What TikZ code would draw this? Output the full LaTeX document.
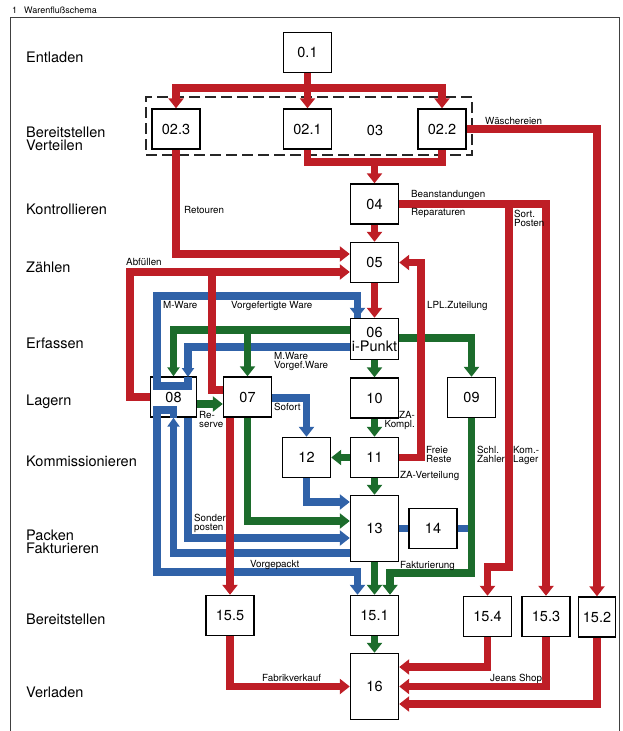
\documentclass[tikz,border=0pt]{standalone}
\usepackage{fontspec}
\setmainfont{TeX Gyre Heros}
\usetikzlibrary{arrows.meta}

\definecolor{flowred}{RGB}{190,30,38}
\definecolor{flowblue}{RGB}{48,98,168}
\definecolor{flowgreen}{RGB}{28,108,44}

\begin{document}
\begin{tikzpicture}[
  x=1pt, y=-1pt,
  box/.style={draw=black, line width=1.4pt, fill=white, minimum width=48pt, minimum height=40pt, inner sep=0pt, align=center, font=\fontsize{14.5}{14}\selectfont},
  tallbox/.style={box, minimum height=66pt},
  stage/.style={anchor=base west, align=left, inner sep=0pt, font=\fontsize{14.5}{13}\selectfont},
  note/.style={anchor=base west, align=left, inner sep=0pt, font=\fontsize{9.8}{8.5}\selectfont},
  group/.style={draw=black!85, line width=1.3pt, dash pattern=on 11pt off 5pt, minimum width=326pt, minimum height=58pt, inner sep=0pt},
  flow/.style={line width=7.5pt, -{Triangle[width=15pt,length=10pt]}},
  redflow/.style={flow, draw=flowred},
  greenflow/.style={flow, draw=flowgreen},
  blueflow/.style={flow, draw=flowblue},
  narrow/.style={-{Triangle[width=12pt,length=9pt]}}
]
\useasboundingbox (0,0) rectangle (623,731);

% frame and title
\draw[line width=0.8pt, black!75] (10,731) -- (10,17) -- (619,17) -- (619,731);
\node[anchor=base west, inner sep=0pt, font=\fontsize{9}{9}\selectfont] (title) at (12,13) {1\hspace{7pt}Warenflußschema};

% === STAGES ===
\node[stage] (sEnt) at (26,62)  {Entladen};
\node[stage] (sBer) at (26,150) {Bereitstellen\\Verteilen};
\node[stage] (sKon) at (26,214) {Kontrollieren};
\node[stage] (sZae) at (26,272) {Zählen};
\node[stage] (sErf) at (26,348) {Erfassen};
\node[stage] (sLag) at (26,405) {Lagern};
\node[stage] (sKom) at (26,466) {Kommissionieren};
\node[stage] (sPac) at (26,553) {Packen\\Fakturieren};
\node[stage] (sBe2) at (26,624) {Bereitstellen};
\node[stage] (sVer) at (26,697) {Verladen};

% === BOXES ===
\node[group] (grp) at (309,126) {};
\node[box] (b01)  at (307.5,52.5) {0.1};
\node[box] (b023) at (176,129)   {02.3};
\node[box] (b021) at (307.5,129) {02.1};
\node[box] (b022) at (442,129)   {02.2};
\node[inner sep=0pt, font=\fontsize{14.5}{14}\selectfont] (l03) at (375,130) {03};
\node[box] (b04)  at (374.5,204) {04};
\node[box] (b05)  at (374.5,262.5) {05};
\node[box, minimum height=41pt] (b06) at (374.5,339) {06\\i-Punkt};
\node[box, minimum width=46pt] (b08) at (173.5,397) {08};
\node[box] (b07)  at (247.5,397) {07};
\node[box] (b10)  at (374.5,398) {10};
\node[box] (b09)  at (471.5,397.5) {09};
\node[box] (b12)  at (306.5,457.5) {12};
\node[box] (b11)  at (374.5,457.5) {11};
\node[tallbox] (b13) at (374.5,528.5) {13};
\node[box] (b14)  at (433,528.5) {14};
\node[box] (b155) at (230,615.5) {15.5};
\node[box] (b151) at (374.5,615.5) {15.1};
\node[box] (b154) at (487.5,616.5) {15.4};
\node[box] (b153) at (546,616.5) {15.3};
\node[box, minimum width=37pt] (b152) at (597,617) {15.2};
\node[tallbox] (b16) at (374.5,686.5) {16};

% junctions
\coordinate (jtop) at (307.5,88);
\coordinate (jmid) at (374.5,162);
\coordinate (jabf) at (212,272);
\coordinate (jbean) at (509,204);
\coordinate (jgr) at (247.5,330);
\coordinate (m8a) at (188,377);
\coordinate (fak) at (390,573);

% === BLUE ===
\draw[blueflow, -] (m8a) -- (188,386) -- (157,386) -- (157,296) -| ([xshift=-17pt]b06.north);
\draw[blueflow] (157,296) -| ([xshift=-17pt]b06.north);
\draw[blueflow, narrow] (b06.west |- 0,347) -| (m8a);
\draw[blueflow] (b07.east |- 0,398) -| (b12.north);
\draw[blueflow] (b12.south) |- (b13.west |- 0,502);
\draw[blueflow] (m8a |- b08.south) |- (b13.west |- 0,538);
\draw[blueflow, narrow] (b13.west |- 0,553) -| (b08.south);
\draw[blueflow, -] (b08.south) -- (173.5,410) -- (157,410) -- (157,572) -- (357.5,572);
\draw[blueflow] (157,572) -| ([xshift=-17pt]b151.north);
\draw[blueflow, -] (b13.east) -- (b14.west);
\draw[blueflow, -] (b14.east) -- (b14.east -| b09.south);

% === GREEN ===
\draw[greenflow, narrow] (b06.west |- 0,330) -| (b08.north);
\draw[greenflow] (jgr) -- (b07.north);
\draw[greenflow] (b06.east |- 0,338) -| (b09.north);
\draw[greenflow] (b06.south) -- (b10.north);
\draw[greenflow] (b10.south) -- (b11.north);
\draw[greenflow] (b11.south) -- (b13.north);
\draw[greenflow] (b11.west) -- (b12.east);
\draw[greenflow] (b08.east |- 0,404) -- (b07.west |- 0,404);
\draw[greenflow] (b07.south) |- (b13.west |- 0,521);
\draw[greenflow] (b09.south) |- (fak) -- (fak |- b151.north);
\draw[greenflow] (b13.south) -- (b151.north);
\draw[greenflow] (b151.south) -- (b16.north);

% === RED ===
\draw[redflow] (b01.south) -- (b021.north);
\draw[redflow] (jtop) -| (b023.north);
\draw[redflow] (jtop) -| (b022.north);
\draw[redflow, -] (b021.south) |- (b022.south |- jmid) -- (b022.south);
\draw[redflow] (jmid) -- (b04.north);
\draw[redflow] (b022.east) -| (b152.north);
\draw[redflow] (b023.south) |- (b05.west |- 0,254);
\draw[redflow] (b08.west) -- (130,397) |- (b05.west |- jabf);
\draw[redflow, -] (b07.west |- 0,390) -| (jabf);
\draw[redflow] (b04.south) -- (b05.north);
\draw[redflow] (b05.south) -- (b06.north);
\draw[redflow] (b04.east) -| (b153.north);
\draw[redflow] (jbean) |- (b154.north |- 0,567) -- (b154.north);
\draw[redflow] (b11.east) -- (421,457.5) |- (b05.east);
\draw[redflow] (b07.south -| b155.north) -- (b155.north);
\draw[redflow] (b155.south) |- (b16.west);
\draw[redflow] (b154.south) |- (b16.east |- 0,667);
\draw[redflow] (b153.south) |- (b16.east);
\draw[redflow] (b152.south) |- (b16.east |- 0,704);

% === LABELS ===
\node[note] (lWasch) at (485,124) {Wäschereien};
\node[note] (lRet)  at (184,213) {Retouren};
\node[note] (lBean) at (411,197) {Beanstandungen};
\node[note] (lRep)  at (411,215) {Reparaturen};
\node[note] (lSort) at (514,226) {Sort.\\Posten};
\node[note] (lAbf)  at (126,265) {Abfüllen};
\node[note] (lLPL)  at (427,308) {LPL.Zuteilung};
\node[note] (lMW)   at (163,308) {M-Ware};
\node[note] (lVW)   at (231,308) {Vorgefertigte Ware};
\node[note] (lMV)   at (274,368) {M.Ware\\Vorgef.Ware};
\node[note] (lSof)  at (274,410) {Sofort};
\node[note] (lRes)  at (199,427) {Re-\\serve};
\node[note, anchor=base east, align=right] (lZAK) at (415,427) {ZA-\\Kompl.};
\node[note] (lFR)   at (426,462) {Freie\\Reste};
\node[note] (lSZ)   at (477,462) {Schl.\\Zahler};
\node[note] (lKL)   at (513,462) {Kom.-\\Lager};
\node[note] (lZAV)  at (400,478) {ZA-Verteilung};
\node[note] (lSP)   at (194,530) {Sonder\\posten};
\node[note] (lVP)   at (250,567) {Vorgepackt};
\node[note] (lFak)  at (400,568) {Fakturierung};
\node[note] (lFab)  at (262,681) {Fabrikverkauf};
\node[note] (lJS)   at (490,681) {Jeans Shop};

\end{tikzpicture}
\end{document}
